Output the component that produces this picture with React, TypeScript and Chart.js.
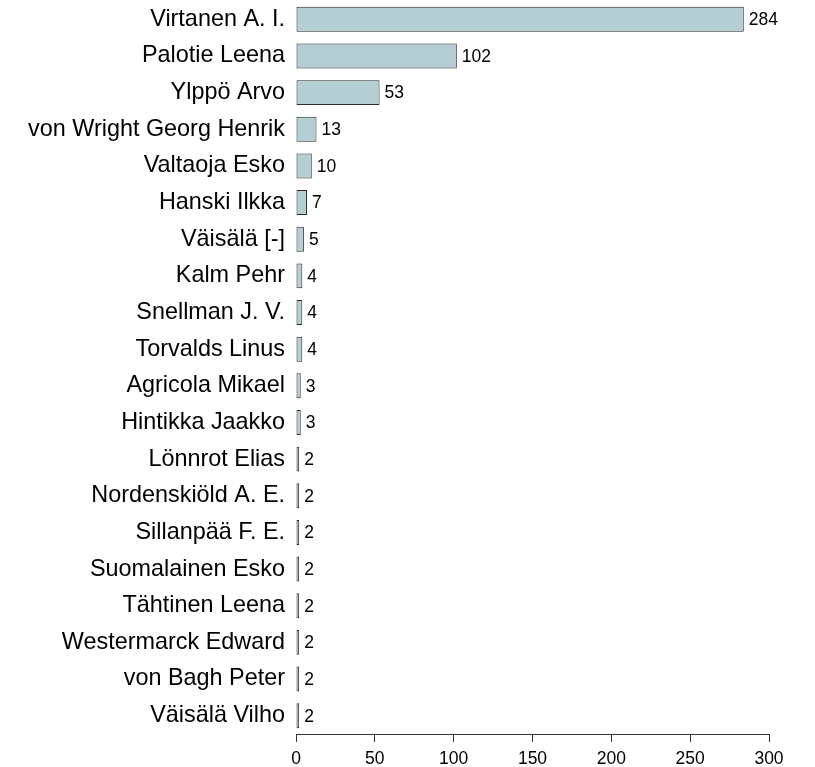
import React, { useEffect, useRef } from "react";
import { Chart, registerables } from "chart.js";

Chart.register(...registerables);

const names = [
  "Virtanen A. I.",
  "Palotie Leena",
  "Ylppö Arvo",
  "von Wright Georg Henrik",
  "Valtaoja Esko",
  "Hanski Ilkka",
  "Väisälä [-]",
  "Kalm Pehr",
  "Snellman J. V.",
  "Torvalds Linus",
  "Agricola Mikael",
  "Hintikka Jaakko",
  "Lönnrot Elias",
  "Nordenskiöld A. E.",
  "Sillanpää F. E.",
  "Suomalainen Esko",
  "Tähtinen Leena",
  "Westermarck Edward",
  "von Bagh Peter",
  "Väisälä Vilho",
];

const counts = [284, 102, 53, 13, 10, 7, 5, 4, 4, 4, 3, 3, 2, 2, 2, 2, 2, 2, 2, 2];

const xTicks = [0, 50, 100, 150, 200, 250, 300];

const FONT = "'Liberation Sans', Arial, Helvetica, sans-serif";

const valueLabels = {
  id: "valueLabels",
  afterDatasetsDraw(chart: any) {
    const ctx = chart.ctx;
    const meta = chart.getDatasetMeta(0);
    ctx.save();
    ctx.font = `17.5px ${FONT}`;
    ctx.fillStyle = "#000";
    ctx.textAlign = "left";
    ctx.textBaseline = "middle";
    meta.data.forEach((bar: any, i: number) => {
      ctx.fillText(String(counts[i]), bar.x + 5, bar.y + 1);
    });
    ctx.restore();
  },
};

export default function App() {
  const ref = useRef<HTMLCanvasElement | null>(null);

  useEffect(() => {
    if (!ref.current) return;
    const chart = new Chart(ref.current, {
      type: "bar",
      data: {
        labels: names,
        datasets: [
          {
            data: counts,
            backgroundColor: "#b5ced4",
            borderColor: "#2a2a2a",
            borderWidth: 1,
            borderSkipped: false,
            barPercentage: 0.68,
            categoryPercentage: 1,
          },
        ],
      },
      options: {
        indexAxis: "y",
        animation: false,
        responsive: false,
        maintainAspectRatio: false,
        layout: { padding: { left: 0, right: 46, top: 1, bottom: 0 } },
        plugins: {
          legend: { display: false },
          tooltip: { enabled: false },
        },
        scales: {
          x: {
            min: 0,
            max: 300,
            afterBuildTicks: (scale: any) => {
              scale.ticks = xTicks.map((v) => ({ value: v }));
            },
            afterFit: (scale: any) => {
              scale.height = 33;
              scale.paddingLeft = 0;
              scale.paddingRight = 0;
            },
            border: { display: true, color: "#333333", width: 1 },
            grid: {
              display: true,
              drawOnChartArea: false,
              drawTicks: true,
              tickLength: 8,
              color: "#333333",
            },
            ticks: {
              color: "#000",
              font: { family: FONT, size: 17.5 },
              padding: 7,
              maxRotation: 0,
            },
          },
          y: {
            afterFit: (scale: any) => {
              scale.width = 296;
              scale.paddingTop = 0;
              scale.paddingBottom = 0;
            },
            border: { display: false },
            grid: { display: false, drawTicks: false },
            ticks: {
              color: "#000",
              font: { family: FONT, size: 23.4 },
              padding: 11,
              autoSkip: false,
            },
          },
        },
      },
      plugins: [valueLabels],
    });
    return () => chart.destroy();
  }, []);

  return (
    <div style={{ position: "fixed", left: 0, top: 0, width: 815, height: 767, background: "#fff" }}>
      <canvas ref={ref} width={815} height={767} style={{ display: "block", width: 815, height: 767 }} />
    </div>
  );
}
